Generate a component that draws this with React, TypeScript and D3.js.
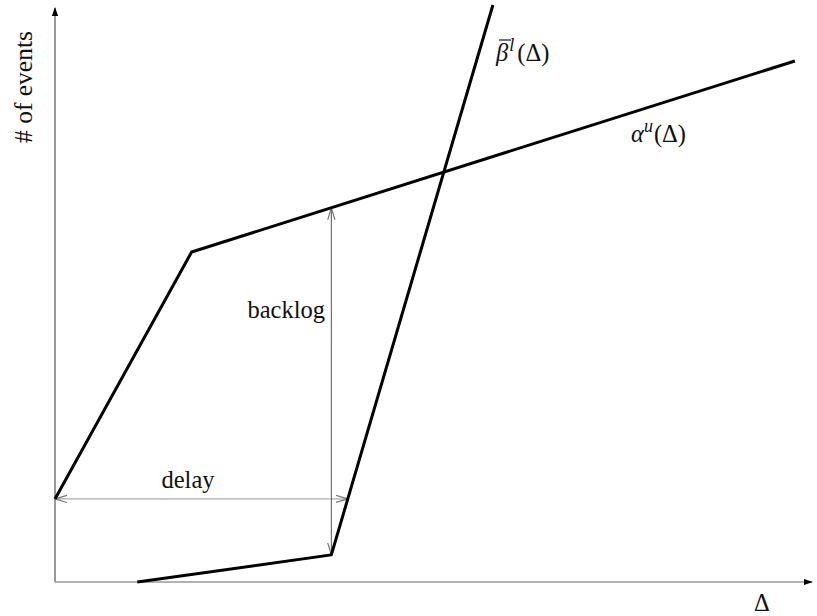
import React from 'react';
import * as d3 from 'd3';

// piecewise-linear curves, in abstract units (x: Δ, y: # of events)
const alphaU: [number, number][] = [[0, 14.4], [18.1, 57.2], [98, 90.3]];
const betaL: [number, number][] = [[10.9, 0], [36.6, 4.7], [58.0, 100]];
const xMax = 100;
const yMax = 100;

const W = 817;
const H = 616;

// y of a polyline at a given x
const yAt = (pts: [number, number][], x: number) => {
  for (let i = 1; i < pts.length; i++) {
    const [x0, y0] = pts[i - 1];
    const [x1, y1] = pts[i];
    if (x >= x0 && x <= x1) return y0 + ((x - x0) * (y1 - y0)) / (x1 - x0);
  }
  return pts[pts.length - 1][1];
};
// x of a polyline at a given y
const xAt = (pts: [number, number][], y: number) => {
  for (let i = 1; i < pts.length; i++) {
    const [x0, y0] = pts[i - 1];
    const [x1, y1] = pts[i];
    if (y >= y0 && y <= y1) return x0 + ((y - y0) * (x1 - x0)) / (y1 - y0);
  }
  return pts[pts.length - 1][0];
};

export default function App() {
  const x = d3.scaleLinear().domain([0, xMax]).range([55, 810]);
  const y = d3.scaleLinear().domain([0, yMax]).range([582, 5]);
  const line = d3.line<[number, number]>().x(d => x(d[0])).y(d => y(d[1]));

  // backlog: vertical gap at the beta knee
  const bx = betaL[1][0];
  const bTop = yAt(alphaU, bx);
  const bBot = betaL[1][1];
  // delay: horizontal gap at alpha's start
  const dy = alphaU[0][1];
  const dRight = xAt(betaL, dy);

  const font = '"Liberation Serif", "DejaVu Serif", serif';

  return (
    <svg width={W} height={H} style={{ position: 'absolute', left: 0, top: 0, background: '#fff' }}>
      <defs>
        <marker id="ah" viewBox="0 0 10 10" refX="9" refY="5" markerWidth="9" markerHeight="9"
          markerUnits="userSpaceOnUse" orient="auto">
          <path d="M0,1.5 L10,5 L0,8.5 Z" fill="#000" />
        </marker>
        <marker id="oh" viewBox="0 0 10 10" refX="10" refY="5" markerWidth="12" markerHeight="12"
          markerUnits="userSpaceOnUse" orient="auto-start-reverse">
          <path d="M0,2 L10,5 L0,8" fill="none" stroke="#777" strokeWidth="1" />
        </marker>
      </defs>

      {/* axes */}
      <line x1={x(0)} y1={y(0)} x2={x(0)} y2={8} stroke="#555" strokeWidth={1.2} markerEnd="url(#ah)" />
      <line x1={x(0)} y1={y(0)} x2={812} y2={y(0)} stroke="#999" strokeWidth={1.6} markerEnd="url(#ah)" />

      {/* delay and backlog */}
      <line x1={x(0)} y1={y(dy)} x2={x(dRight)} y2={y(dy)} stroke="#999" strokeWidth={1}
        markerStart="url(#oh)" markerEnd="url(#oh)" />
      <line x1={x(bx)} y1={y(bBot)} x2={x(bx)} y2={y(bTop)} stroke="#555" strokeWidth={1}
        markerStart="url(#oh)" markerEnd="url(#oh)" />

      {/* curves */}
      <path d={line(alphaU) ?? ''} fill="none" stroke="#000" strokeWidth={3} strokeLinejoin="round" />
      <path d={line(betaL) ?? ''} fill="none" stroke="#000" strokeWidth={3} strokeLinejoin="round" />

      {/* labels */}
      <g fontFamily={font} fontSize={24.5} fill="#111">
        <text x={325} y={318} textAnchor="end">backlog</text>
        <text x={188} y={488} textAnchor="middle">delay</text>
        <text x={754} y={611}>Δ</text>
        <text transform="translate(32,87) rotate(-90)" textAnchor="middle" fontSize={25.5}># of events</text>
        <text x={631} y={142}>
          <tspan fontStyle="italic">α</tspan>
          <tspan fontStyle="italic" fontSize={18} dy={-10}>u</tspan>
          <tspan dy={10} dx={1}>(Δ)</tspan>
        </text>
        <text x={496} y={61}>
          <tspan fontStyle="italic">β</tspan>
          <tspan fontStyle="italic" fontSize={18} dy={-10} dx={1}>l</tspan>
          <tspan dy={10} dx={3}>(Δ)</tspan>
        </text>
        <line x1={499} y1={40} x2={511} y2={40} stroke="#111" strokeWidth={1.2} />
      </g>
    </svg>
  );
}
